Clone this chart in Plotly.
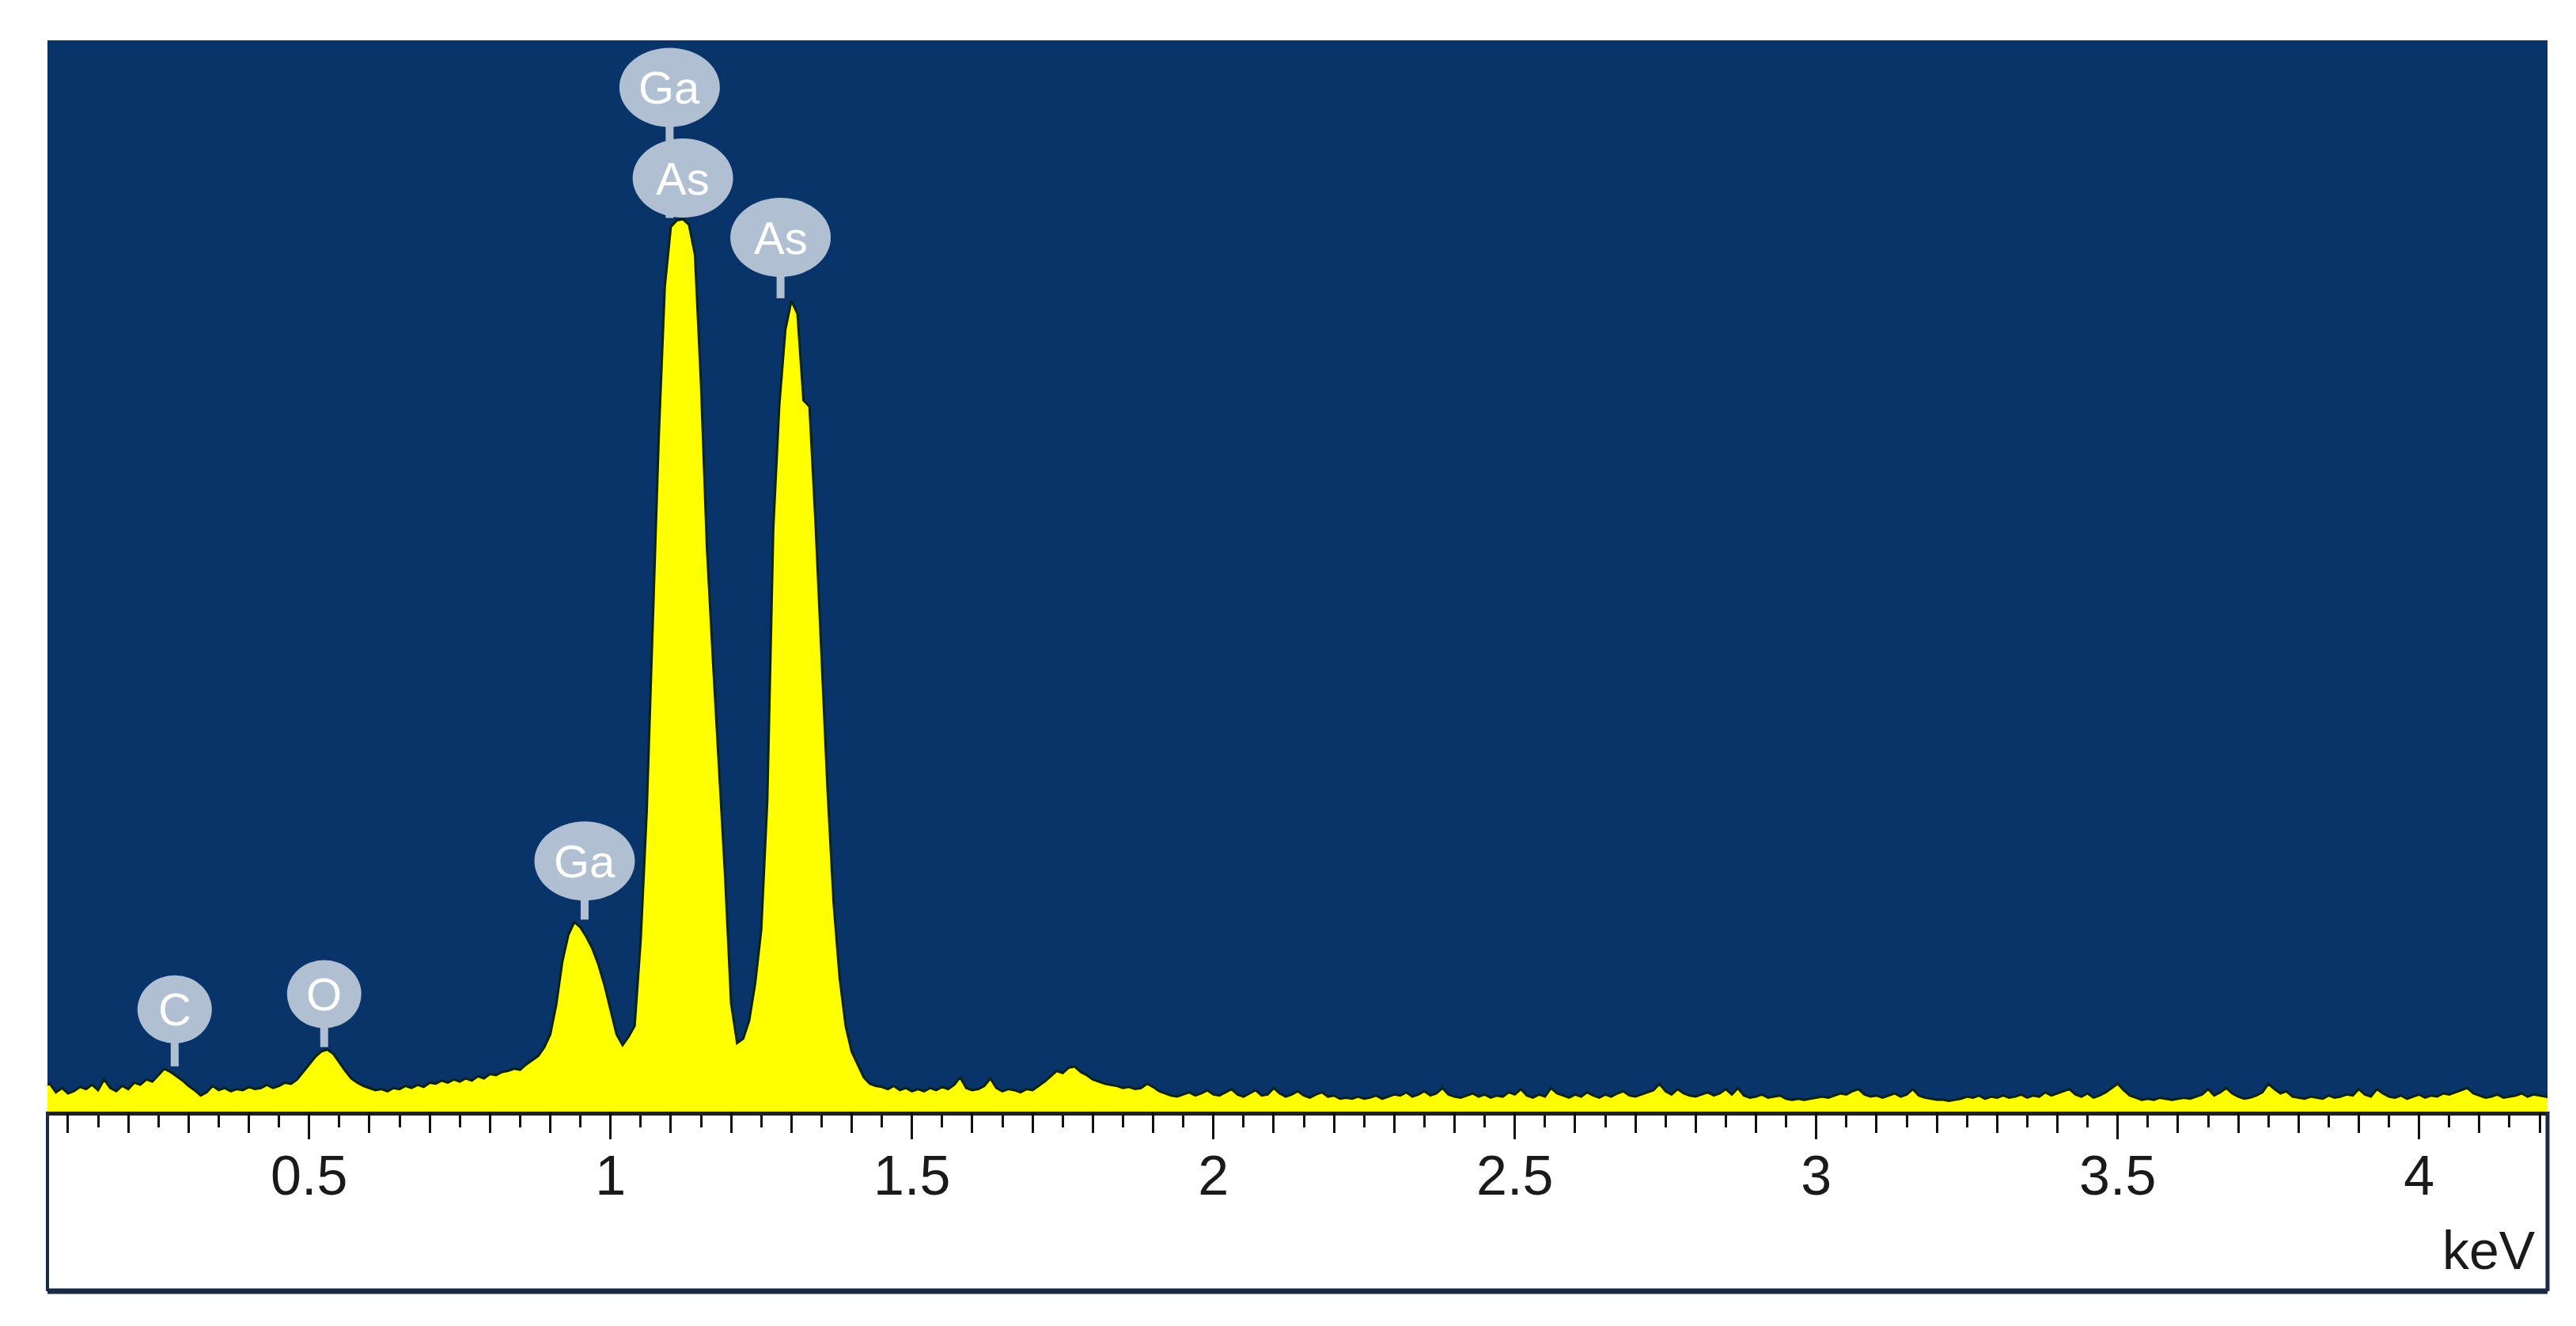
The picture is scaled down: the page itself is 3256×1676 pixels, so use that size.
import numpy as np
import plotly.graph_objects as go

# EDS spectrum, 10 eV channels starting at 0.06 keV
channel_start_kev = 0.06
channel_width_kev = 0.01

# 0.06 - 0.85 keV : C and O region
counts_low = [
    24, 26, 18, 22, 17, 19, 23, 21, 25, 20,
    30, 22, 19, 24, 21, 27, 25, 30, 28, 34,
    40, 37, 33, 29, 24, 20, 15, 18, 24, 20,
    22, 19, 21, 20, 23, 21, 22, 25, 22, 24,
    27, 26, 30, 37, 44, 51, 56, 58, 54, 46,
    38, 31, 27, 24, 22, 20, 21, 19, 22, 21,
    24, 22, 25, 23, 27, 26, 29, 27, 30, 28,
    31, 29, 33, 31, 35, 34, 37, 38, 40, 39,
]

# 0.86 - 1.50 keV : Ga / As L lines
counts_peaks = [
    44, 48, 52, 60, 72, 100, 140, 165, 177, 172,
    163, 152, 137, 118, 95, 72, 62, 70, 80, 160,
    280, 450, 630, 770, 826, 832, 833, 828, 800, 680,
    525, 420, 320, 220, 101, 64, 68, 85, 120, 170,
    290, 545, 660, 730, 757, 745, 664, 658, 550, 420,
    300, 195, 125, 80, 56, 44, 32, 26, 24, 23,
    21, 24, 20, 22, 19,
]

# 1.51 - 4.22 keV : background
counts_tail = [
    21, 19, 22, 20, 23, 21, 25, 32, 22, 20,
    21, 24, 31, 22, 19, 21, 20, 18, 21, 20,
    24, 28, 33, 38, 36, 41, 42, 37, 34, 30,
    28, 26, 25, 24, 22, 23, 21, 22, 26, 23,
    19, 17, 15, 14, 16, 18, 15, 17, 20, 16,
    15, 18, 21, 16, 14, 17, 20, 15, 16, 22,
    17, 14, 16, 19, 15, 13, 16, 18, 14, 15,
    12, 13, 12, 14, 12, 13, 15, 12, 14, 16,
    15, 18, 14, 16, 19, 15, 17, 22, 16, 14,
    13, 15, 17, 14, 16, 13, 15, 14, 18, 16,
    21, 15, 13, 16, 14, 22, 17, 15, 13, 16,
    14, 18, 15, 13, 16, 14, 17, 19, 15, 14,
    16, 18, 20, 26, 19, 16, 21, 17, 15, 14,
    16, 18, 15, 17, 21, 16, 22, 15, 13, 14,
    16, 13, 14, 15, 12, 11, 12, 11, 12, 13,
    14, 13, 15, 17, 16, 19, 21, 16, 14, 15,
    13, 15, 17, 14, 16, 21, 15, 13, 12, 11,
    11, 10, 11, 12, 14, 13, 15, 12, 14, 13,
    15, 13, 14, 16, 13, 15, 14, 18, 15, 17,
    19, 21, 16, 14, 17, 13, 15, 18, 22, 26,
    20, 15, 13, 11, 12, 11, 13, 12, 11, 12,
    13, 12, 14, 16, 21, 15, 18, 22, 17, 14,
    12, 13, 15, 18, 26, 21, 17, 19, 14, 13,
    12, 14, 13, 12, 15, 13, 14, 16, 15, 21,
    16, 14, 21, 17, 14, 13, 15, 12, 14, 16,
    13, 15, 14, 17, 16, 18, 20, 22, 17, 15,
    13, 14, 16, 13, 14, 15, 17, 14, 16, 15,
    14, 13,
]

# element line markers
line_labels = ["C", "O", "Ga", "Ga", "As", "As"]
line_energies = [0.277, 0.525, 0.957, 1.098, 1.120, 1.282]

tick_values = [0.5, 1, 1.5, 2, 2.5, 3, 3.5, 4]
tick_labels = ["0.5", "1", "1.5", "2", "2.5", "3", "3.5", "4"]

counts = np.array(counts_low + counts_peaks + counts_tail, dtype=float)
energies = channel_start_kev + channel_width_kev * np.arange(len(counts))

W, H = 3256, 1676
M_L, M_R, M_T, M_B = 52, 44, 43, 279
plot_h = H - M_T - M_B
frame_bottom = -(1624 - (H - M_B)) / plot_h
x_range = [0.066, 4.213]

bg_blue = "#08346A"
bubble = "#B1BFD2"
frame = "#1B2A44"
tick_col = "#111111"
font = "Liberation Sans, Arial, sans-serif"

fig = go.Figure()
fig.add_trace(
    go.Scatter(
        x=energies,
        y=counts,
        mode="lines",
        fill="tozeroy",
        fillcolor="#FFFF00",
        line=dict(color="#0E2412", width=3),
        hoverinfo="skip",
        showlegend=False,
    )
)
# carriers for the extra tick axes (0.1 keV and 0.5 keV ticks)
fig.add_trace(go.Scatter(x=[], y=[], xaxis="x2", showlegend=False))
fig.add_trace(go.Scatter(x=[], y=[], xaxis="x3", showlegend=False))


def tick_axis(dtick, length):
    return dict(
        overlaying="x",
        anchor="y",
        side="bottom",
        range=x_range,
        showgrid=False,
        zeroline=False,
        showline=False,
        showticklabels=False,
        tickmode="linear",
        tick0=0,
        dtick=dtick,
        ticks="outside",
        ticklen=length,
        tickwidth=3,
        tickcolor=tick_col,
    )


fig.update_layout(
    width=W,
    height=H,
    margin=dict(l=M_L, r=M_R, t=M_T, b=M_B),
    paper_bgcolor="white",
    plot_bgcolor=bg_blue,
    showlegend=False,
    xaxis=dict(
        range=x_range,
        showgrid=False,
        zeroline=False,
        showline=True,
        linecolor="#1E1E1E",
        linewidth=5,
        tickmode="array",
        tickvals=tick_values,
        ticktext=tick_labels,
        ticks="outside",
        ticklen=14,
        tickwidth=3,
        tickcolor=tick_col,
        ticklabelstandoff=2,
        tickfont=dict(family=font, size=70, color="#1A1A1A"),
        minor=dict(dtick=0.05, tick0=0, ticks="outside", ticklen=15,
                   tickwidth=3, tickcolor=tick_col, showgrid=False),
    ),
    xaxis2=tick_axis(0.1, 26),
    xaxis3=tick_axis(0.5, 34),
    yaxis=dict(range=[0, 1000], visible=False, showgrid=False, zeroline=False),
)

# frame around the axis strip
for x0, y0, x1, y1, w in [
    (0, 0, 0, frame_bottom, 4),
    (1, 0, 1, frame_bottom, 5),
    (0, frame_bottom, 1, frame_bottom, 7),
]:
    fig.add_shape(type="line", xref="paper", yref="paper",
                  x0=x0, y0=y0, x1=x1, y1=y1,
                  line=dict(color=frame, width=w), layer="above")

fig.add_annotation(
    text="keV", xref="paper", yref="paper", x=0.996, y=-(1572 - (H - M_B)) / plot_h,
    xanchor="right", yanchor="middle", showarrow=False,
    font=dict(family=font, size=68, color="#1A1A1A"),
)

# marker bubbles: pixel offset above the local peak top
offsets = [75, 70, 77, 168, 52, 80]
stems, bubbles = [], []
for label, e, off in zip(line_labels, line_energies, offsets):
    window = (energies >= e - 0.02) & (energies <= e + 0.02)
    top = counts[window].max()
    bw, bh = (94, 86) if len(label) == 1 else (127, 100)
    stems.append(dict(
        type="line", xref="x", yref="y", ysizemode="pixel", yanchor=top,
        x0=e, x1=e, y0=3, y1=off, line=dict(color=bubble, width=10),
    ))
    bubbles.append(dict(
        type="circle", xref="x", yref="y",
        xsizemode="pixel", xanchor=e, x0=-bw / 2, x1=bw / 2,
        ysizemode="pixel", yanchor=top, y0=off - bh / 2, y1=off + bh / 2,
        fillcolor=bubble, line=dict(width=0),
    ))
    fig.add_annotation(
        text=label, x=e, y=top, xref="x", yref="y", yshift=off,
        showarrow=False, font=dict(family=font, size=58, color="white"),
    )
for s in stems + bubbles:
    fig.add_shape(s)

fig.write_html("out.html")
